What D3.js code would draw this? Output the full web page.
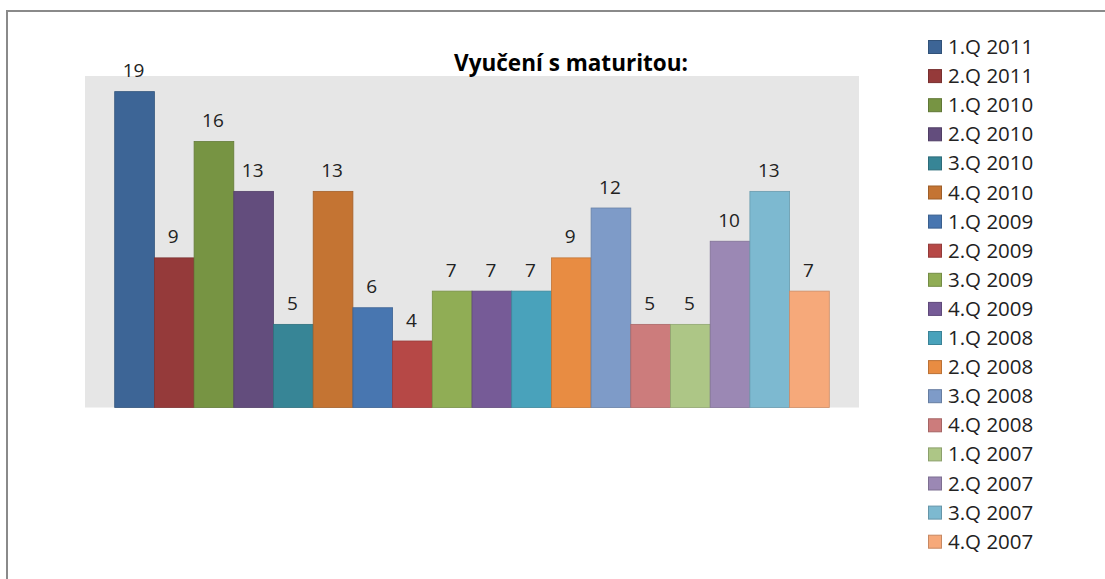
<!DOCTYPE html>
<html>
<head>
<meta charset="utf-8">
<script src="https://cdn.jsdelivr.net/npm/d3@7"></script>
<style>
  body { margin: 0; background: #fff; }
  text { font-family: "Open Sans", sans-serif; fill: #222; }
</style>
</head>
<body>
<div id="chart"></div>
<script>
// data
var quarters = ["1.Q 2011", "2.Q 2011", "1.Q 2010", "2.Q 2010", "3.Q 2010", "4.Q 2010",
  "1.Q 2009", "2.Q 2009", "3.Q 2009", "4.Q 2009", "1.Q 2008", "2.Q 2008",
  "3.Q 2008", "4.Q 2008", "1.Q 2007", "2.Q 2007", "3.Q 2007", "4.Q 2007"];
var counts = [19, 9, 16, 13, 5, 13, 6, 4, 7, 7, 7, 9, 12, 5, 5, 10, 13, 7];
var barColors = ["#3d6596", "#953a3a", "#779443", "#634d7d", "#378596", "#c47433",
  "#4876b0", "#b64846", "#90ad55", "#765b97", "#49a2bb", "#e88c42",
  "#7e9bc8", "#cc7c7c", "#adc686", "#9b88b4", "#7db9d0", "#f6a97a"];
var chartTitle = "Vyučení s maturitou:";

var svgWidth = 1105, svgHeight = 579;

// plot region (grey area)
var plot = { left: 85, right: 859, top: 76, bottom: 407.5 };

var svg = d3.select("#chart").append("svg")
  .attr("width", svgWidth)
  .attr("height", svgHeight);

// outer chart frame (runs off the right and bottom edges)
svg.append("rect")
  .attr("x", 7).attr("y", 11)
  .attr("width", 1120).attr("height", 620)
  .attr("fill", "none")
  .attr("stroke", "#8a8a8a")
  .attr("stroke-width", 2);

svg.append("rect")
  .attr("x", plot.left).attr("y", plot.top)
  .attr("width", plot.right - plot.left)
  .attr("height", plot.bottom - plot.top)
  .attr("fill", "#e6e6e6");

// one category, 18 series side by side
var xScale = d3.scaleBand()
  .domain(quarters)
  .range([114.7, 829.3])
  .padding(0);

var yScale = d3.scaleLinear()
  .domain([0, 20])
  .range([plot.bottom, 75]);

var bars = svg.selectAll(".bar")
  .data(quarters)
  .enter()
  .append("rect")
  .attr("class", "bar")
  .attr("x", d => xScale(d))
  .attr("y", (d, i) => yScale(counts[i]))
  .attr("width", xScale.bandwidth())
  .attr("height", (d, i) => yScale(0) - yScale(counts[i]))
  .attr("fill", (d, i) => barColors[i])
  .attr("stroke", (d, i) => d3.color(barColors[i]).darker(0.5))
  .attr("stroke-width", 0.8);

// value labels above the bars
svg.selectAll(".val")
  .data(quarters)
  .enter()
  .append("text")
  .attr("class", "val")
  .attr("x", d => xScale(d) + xScale.bandwidth() / 2 - 1)
  .attr("y", (d, i) => yScale(counts[i]) - 14.5)
  .attr("text-anchor", "middle")
  .attr("font-size", "19px")
  .text((d, i) => counts[i]);

svg.append("text")
  .attr("x", 571)
  .attr("y", 71)
  .attr("text-anchor", "middle")
  .attr("font-size", "22.5px")
  .attr("font-weight", "bold")
  .style("fill", "#000")
  .text(chartTitle);

// legend
var legend = svg.append("g")
  .attr("transform", "translate(928, 40)");

var rows = legend.selectAll(".leg")
  .data(quarters)
  .enter()
  .append("g")
  .attr("class", "leg")
  .attr("transform", (d, i) => `translate(0, ${i * 29.1})`);

rows.append("rect")
  .attr("x", 0.5).attr("y", 0.5)
  .attr("width", 13).attr("height", 13)
  .attr("fill", (d, i) => barColors[i])
  .attr("stroke", (d, i) => d3.color(barColors[i]).darker(0.6))
  .attr("stroke-width", 1);

rows.append("text")
  .attr("x", 20)
  .attr("y", 14)
  .attr("font-size", "20.5px")
  .text(d => d);
</script>
</body>
</html>
